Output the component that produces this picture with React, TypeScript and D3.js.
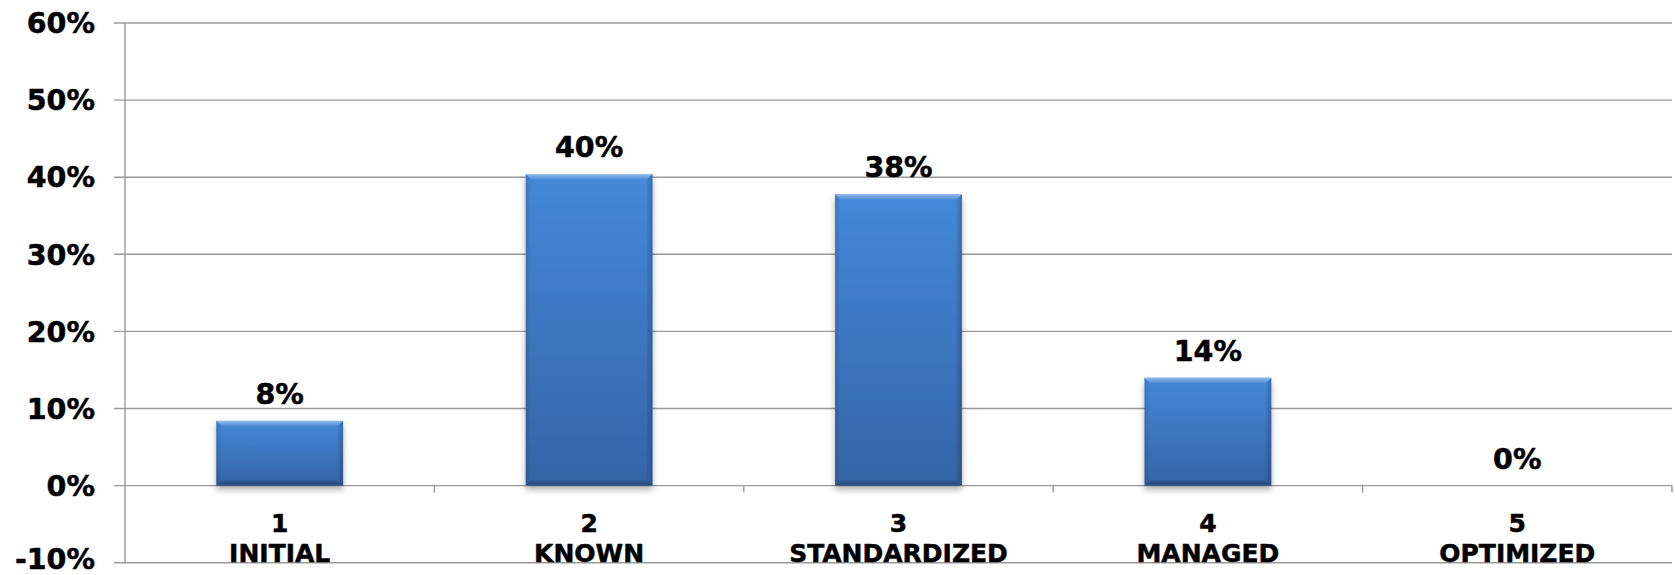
import React from "react";
import * as d3 from "d3";

// Maturity levels and share of responses at each level
const levelNumbers = ["1", "2", "3", "4", "5"];
const levelNames = ["INITIAL", "KNOWN", "STANDARDIZED", "MANAGED", "OPTIMIZED"];
const shares = [0.084, 0.404, 0.378, 0.14, 0];
const yTicks = [-0.1, 0, 0.1, 0.2, 0.3, 0.4, 0.5, 0.6];

const W = 1675;
const H = 575;
const FONT = "'DejaVu Sans', Verdana, sans-serif";

// percent label with a plain hyphen for negatives
const pct = (v: number) => `${Math.round(v * 100)}%`;

export default function App() {
  const left = 125;
  const right = 1672;
  const top = 23;
  const bottom = 562.7;

  const y = d3.scaleLinear().domain([-0.1, 0.6]).range([bottom, top]);
  const x = d3
    .scaleBand<string>()
    .domain(levelNumbers)
    .range([left, right])
    .paddingInner(0.59)
    .paddingOuter(0.295);
  const step = x.step();
  const y0 = y(0);
  const bevel = 5.5;

  const textProps = {
    fontFamily: FONT,
    fontWeight: "bold" as const,
    fill: "#000",
    stroke: "#000",
    strokeWidth: 0.5,
  };

  return (
    <svg
      width={W}
      height={H}
      style={{ position: "absolute", left: 0, top: 0, display: "block", background: "#fff" }}
    >
      <defs>
        <linearGradient id="barFill" x1="0" y1="0" x2="0" y2="1">
          <stop offset="0%" stopColor="#4588d9" />
          <stop offset="100%" stopColor="#3464a6" />
        </linearGradient>
        <linearGradient id="topBevel" x1="0" y1="0" x2="0" y2="1">
          <stop offset="0%" stopColor="#ffffff" stopOpacity={0.42} />
          <stop offset="100%" stopColor="#ffffff" stopOpacity={0.04} />
        </linearGradient>
        <linearGradient id="bottomBevel" x1="0" y1="0" x2="0" y2="1">
          <stop offset="0%" stopColor="#000" stopOpacity={0.08} />
          <stop offset="100%" stopColor="#000" stopOpacity={0.28} />
        </linearGradient>
        <linearGradient id="rightBevel" x1="0" y1="0" x2="1" y2="0">
          <stop offset="0%" stopColor="#000" stopOpacity={0.04} />
          <stop offset="100%" stopColor="#000" stopOpacity={0.2} />
        </linearGradient>
        <linearGradient id="leftBevel" x1="0" y1="0" x2="1" y2="0">
          <stop offset="0%" stopColor="#000" stopOpacity={0.12} />
          <stop offset="100%" stopColor="#000" stopOpacity={0.0} />
        </linearGradient>
        <filter id="barShadow" x="-20%" y="-20%" width="140%" height="150%">
          <feDropShadow dx="0" dy="4" stdDeviation="3.2" floodColor="#000" floodOpacity="0.32" />
        </filter>
      </defs>

      {/* horizontal gridlines with left tick stubs */}
      {yTicks.map((t) => (
        <line
          key={"g" + t}
          x1={left - 11}
          x2={right}
          y1={y(t)}
          y2={y(t)}
          stroke="#9a9a9a"
          strokeWidth={1.4}
        />
      ))}
      {/* value axis */}
      <line x1={left} x2={left} y1={top} y2={bottom} stroke="#9a9a9a" strokeWidth={1.4} />
      {/* category axis tick marks */}
      {levelNumbers.map((_, i) => (
        <line
          key={"ct" + i}
          x1={left + (i + 1) * step}
          x2={left + (i + 1) * step}
          y1={y0}
          y2={y0 + 7}
          stroke="#9a9a9a"
          strokeWidth={1.4}
        />
      ))}

      {/* y tick labels; the lowest one is lifted to stay on the canvas */}
      {yTicks.map((t) => (
        <text
          key={"yl" + t}
          x={95}
          y={t < 0 ? 569 : y(t)}
          dy={t < 0 ? 0 : "0.36em"}
          textAnchor="end"
          fontSize={28.5}
          {...textProps}
        >
          {pct(t)}
        </text>
      ))}

      {/* bars with bevelled edges */}
      {shares.map((v, i) => {
        const bx = x(levelNumbers[i]) as number;
        const bw = x.bandwidth();
        const by = y(v);
        const bh = y0 - by;
        if (bh <= 0) return null;
        const b = Math.min(bevel, bh / 2);
        const x1 = bx + bw;
        const y1 = by + bh;
        return (
          <g key={"bar" + i}>
            <rect x={bx} y={by} width={bw} height={bh} fill="url(#barFill)" filter="url(#barShadow)" />
            <polygon
              points={`${bx},${by} ${bx + b},${by + b} ${bx + b},${y1 - b} ${bx},${y1}`}
              fill="url(#leftBevel)"
            />
            <polygon
              points={`${x1},${by} ${x1},${y1} ${x1 - b},${y1 - b} ${x1 - b},${by + b}`}
              fill="url(#rightBevel)"
            />
            <polygon
              points={`${bx},${y1} ${x1},${y1} ${x1 - b},${y1 - b} ${bx + b},${y1 - b}`}
              fill="url(#bottomBevel)"
            />
            <polygon
              points={`${bx},${by} ${x1},${by} ${x1 - b},${by + b} ${bx + b},${by + b}`}
              fill="url(#topBevel)"
            />
          </g>
        );
      })}

      {/* value labels */}
      {shares.map((v, i) => (
        <text
          key={"vl" + i}
          x={(x(levelNumbers[i]) as number) + x.bandwidth() / 2}
          y={y(v) - 17}
          textAnchor="middle"
          fontSize={28.5}
          {...textProps}
        >
          {pct(v)}
        </text>
      ))}

      {/* category labels */}
      {levelNumbers.map((n, i) => {
        const cx = (x(n) as number) + x.bandwidth() / 2;
        return (
          <text key={"cl" + i} textAnchor="middle" fontSize={25} {...textProps}>
            <tspan x={cx} y={531.5}>{n}</tspan>
            <tspan x={cx} y={562}>{levelNames[i]}</tspan>
          </text>
        );
      })}
    </svg>
  );
}
